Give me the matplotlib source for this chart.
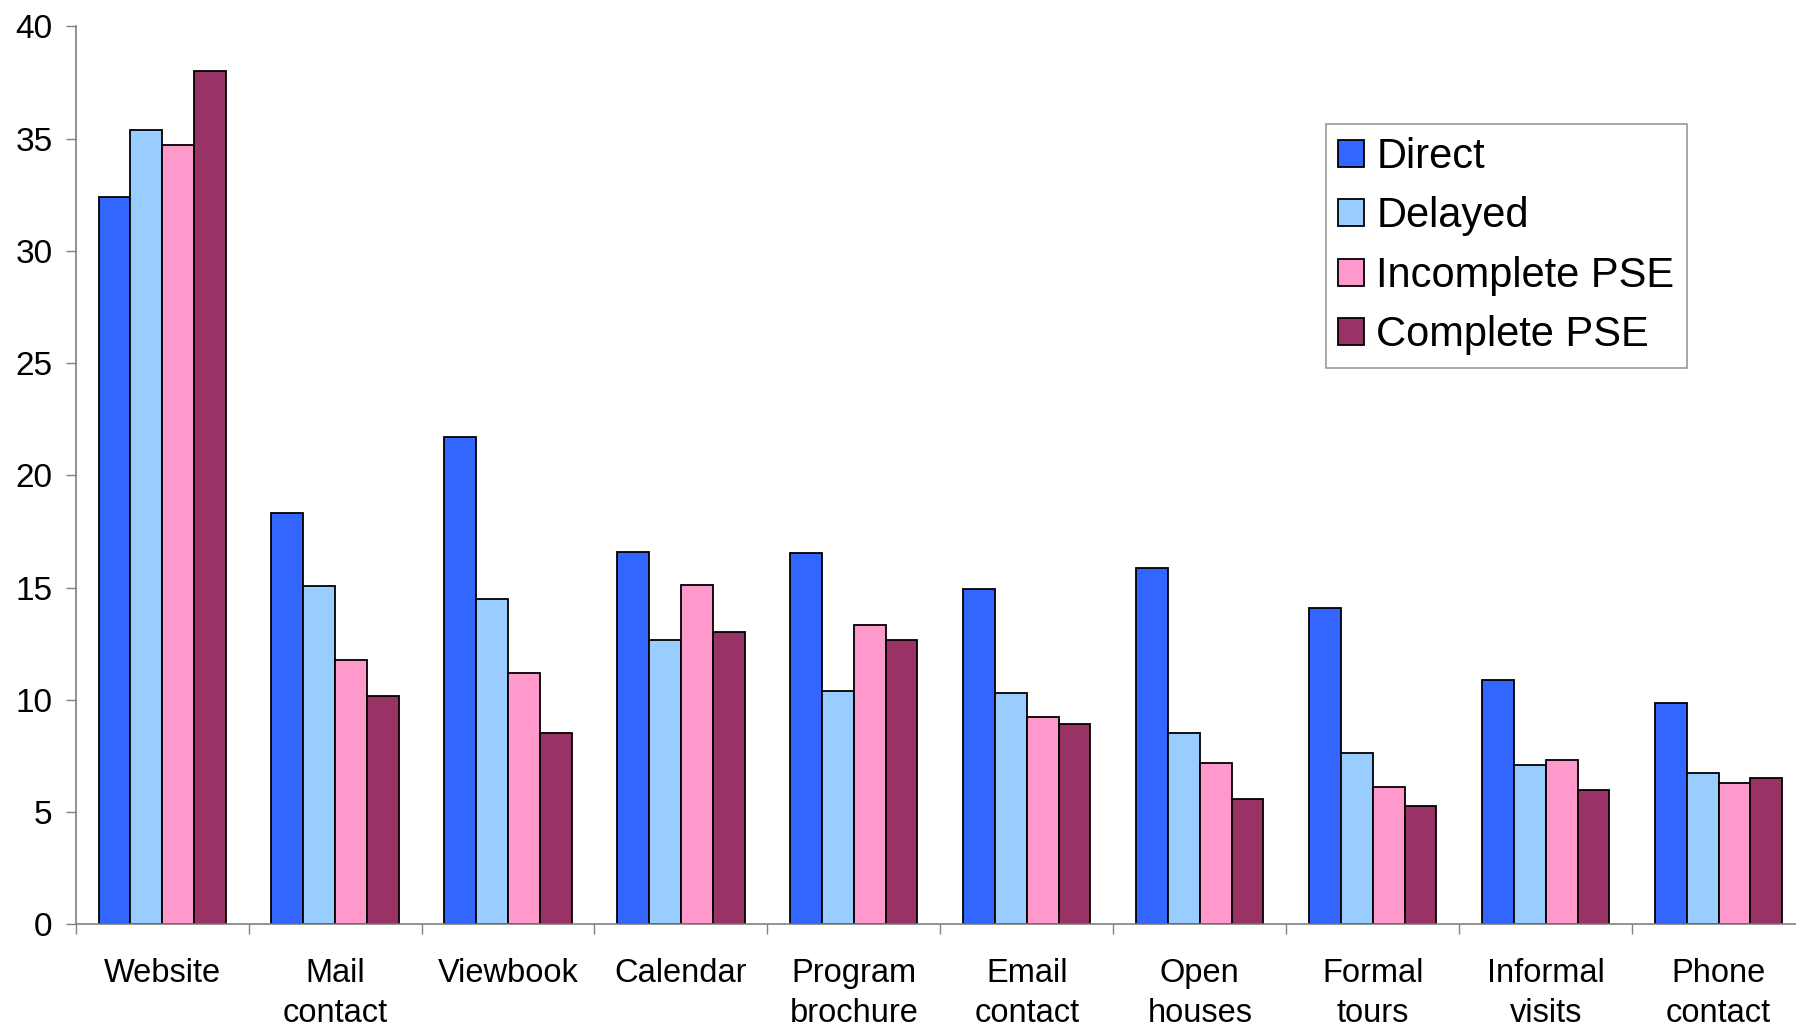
import numpy as np
import matplotlib
matplotlib.use("Agg")
import matplotlib.pyplot as plt
from matplotlib.patches import Patch

plt.rcParams['font.family'] = ['Liberation Sans', 'DejaVu Sans']

# categorias y series
categorias = ["Website", "Mail\ncontact", "Viewbook", "Calendar", "Program\nbrochure",
              "Email\ncontact", "Open\nhouses", "Formal\ntours", "Informal\nvisits", "Phone\ncontact"]
series = ["Direct", "Delayed", "Incomplete PSE", "Complete PSE"]
direct = [32.4, 18.3, 21.7, 16.6, 16.55, 14.95, 15.85, 14.1, 10.9, 9.85]
delayed = [35.4, 15.05, 14.5, 12.65, 10.4, 10.3, 8.5, 7.65, 7.1, 6.73]
incomplete = [34.7, 11.75, 11.2, 15.1, 13.35, 9.23, 7.2, 6.1, 7.3, 6.3]
complete = [38.0, 10.15, 8.5, 13.0, 12.65, 8.9, 5.6, 5.25, 5.97, 6.5]
colores = ["#3366FF", "#99CCFF", "#FF99CC", "#993366"]

valores = [direct, delayed, incomplete, complete]

fig = plt.figure(figsize=(17.96, 10.23), dpi=100)
ax = fig.add_axes([0.0421, 0.0965, 0.963, 0.8778])

x = np.arange(len(categorias))
ancho = 0.1838
for k, (vals, col) in enumerate(zip(valores, colores)):
    ax.bar(x + (k - 1.5) * ancho, vals, width=ancho, color=col,
           edgecolor="black", linewidth=1.3, zorder=2)

ax.set_xlim(-0.5, len(categorias) - 0.5)
ax.set_ylim(0, 40)
ax.set_yticks(np.arange(0, 41, 5))
ax.tick_params(axis='y', labelsize=24, length=7.5, width=1, color="#808080", pad=9)

# etiquetas en el centro, marcas en los limites de grupo
ax.set_xticks(x)
ax.set_xticklabels(categorias, fontsize=23.5, linespacing=1.4)
ax.tick_params(axis='x', which='major', length=0, pad=24)
ax.set_xticks(np.arange(-0.5, len(categorias), 1), minor=True)
ax.tick_params(axis='x', which='minor', length=7.5, width=1, color="#808080")

for s in ["top", "right"]:
    ax.spines[s].set_visible(False)
for s in ["left", "bottom"]:
    ax.spines[s].set_color("#808080")
    ax.spines[s].set_linewidth(1.2)

handles = [Patch(facecolor=c, edgecolor="black", linewidth=1.3, label=n)
           for c, n in zip(colores, series)]
leg = ax.legend(handles=handles, loc="upper left", bbox_to_anchor=(0.7227, 0.891),
                fontsize=30, frameon=True, fancybox=False, shadow=False,
                handlelength=0.62, handleheight=0.62, handletextpad=0.3,
                labelspacing=0.47, borderpad=0.3, borderaxespad=0)
leg.get_frame().set_edgecolor("#808080")
leg.get_frame().set_linewidth(1.2)

fig.savefig("out.png", dpi=100)
